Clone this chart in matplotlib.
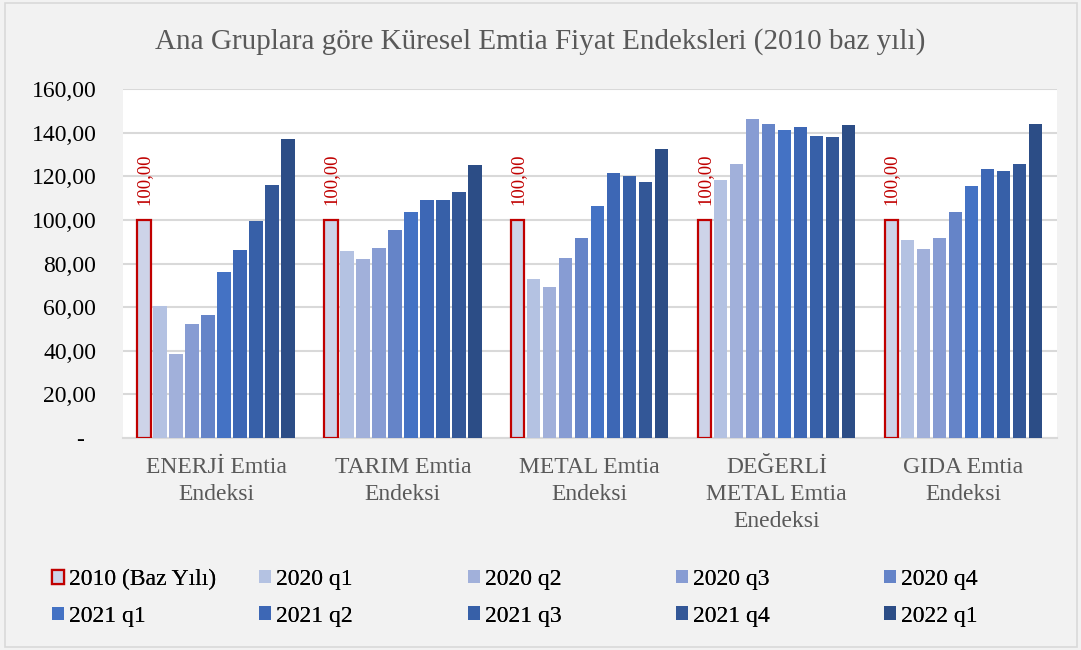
import matplotlib
matplotlib.use('Agg')
import matplotlib.pyplot as plt
import numpy as np
from matplotlib.patches import Rectangle

plt.rcParams['font.family'] = ['Liberation Serif', 'DejaVu Serif']

# kategoriler ve seriler
kategoriler = ['ENERJİ Emtia\nEndeksi', 'TARIM Emtia\nEndeksi', 'METAL Emtia\nEndeksi',
               'DEĞERLİ\nMETAL Emtia\nEnedeksi', 'GIDA Emtia\nEndeksi']
seriler = ['2010 (Baz Yılı)', '2020 q1', '2020 q2', '2020 q3', '2020 q4',
           '2021 q1', '2021 q2', '2021 q3', '2021 q4', '2022 q1']

baz_2010 = [100, 100, 100, 100, 100]
q1_2020 = [60.5, 85.8, 73.0, 118.4, 90.8]
q2_2020 = [38.7, 81.9, 69.1, 125.7, 86.5]
q3_2020 = [52.1, 87.1, 82.5, 146.4, 91.9]
q4_2020 = [56.4, 95.3, 91.9, 144.3, 103.5]
q1_2021 = [76.3, 103.8, 106.6, 141.3, 115.8]
q2_2021 = [86.1, 109.2, 121.7, 142.9, 123.6]
q3_2021 = [99.7, 109.2, 120.1, 138.6, 122.4]
q4_2021 = [116.2, 112.9, 117.5, 138.3, 125.7]
q1_2022 = [137.1, 125.1, 132.6, 143.6, 144.3]

degerler = [baz_2010, q1_2020, q2_2020, q3_2020, q4_2020,
            q1_2021, q2_2021, q3_2021, q4_2021, q1_2022]
renkler = ['#CDD3E8', '#B4C2E2', '#A1B0DA', '#879CD3', '#6584C8',
           '#4472C4', '#3D67B5', '#3760A8', '#335797', '#2C4D86']

y_ticks = [0, 20, 40, 60, 80, 100, 120, 140, 160]

fig = plt.figure(figsize=(10.81, 6.5), dpi=100, facecolor='#F2F2F2')
ax = fig.add_axes([0.1135, 0.3262, 0.864, 0.5364])
ax.set_facecolor('white')

x = np.arange(len(kategoriler))
adim = 0.0856
genislik = 0.072

for i, (ad, vals, renk) in enumerate(zip(seriler, degerler, renkler)):
    pos = x + (i - 4.5) * adim
    if i == 0:
        bars = ax.bar(pos, vals, genislik, color=renk, edgecolor='#C00000', linewidth=1.6, label=ad, zorder=3)
        for b, v in zip(bars, vals):
            ax.annotate(f'{v:.2f}'.replace('.', ','), (b.get_x() + b.get_width() / 2, v),
                        xytext=(0, 11), textcoords='offset points', rotation=90,
                        ha='center', va='bottom', color='#C00000', fontsize=13.5)
    else:
        ax.bar(pos, vals, genislik, color=renk, linewidth=0, label=ad, zorder=3)

ax.set_xlim(-0.5, len(kategoriler) - 0.5)
ax.set_ylim(0, 160)
ax.set_yticks(y_ticks)
ax.set_yticklabels(['-  ' if t == 0 else f'{t:.2f}'.replace('.', ',') for t in y_ticks], fontsize=17)
ax.set_xticks(x)
ax.set_xticklabels(kategoriler, fontsize=17, color='#595959', linespacing=1.37)
ax.tick_params(axis='both', length=0)
ax.tick_params(axis='y', pad=19)
ax.tick_params(axis='x', pad=14)
ax.grid(axis='y', color='#D9D9D9', linewidth=1.5, zorder=0)
for s in ['top', 'left', 'right']:
    ax.spines[s].set_visible(False)
ax.spines['bottom'].set_color('#D9D9D9')
ax.spines['bottom'].set_linewidth(1.5)

fig.text(0.5, 1 - 42 / 650, 'Ana Gruplara göre Küresel Emtia Fiyat Endeksleri (2010 baz yılı)',
         ha='center', va='center', fontsize=21, color='#595959')

# lejant: 5 sütun, her sütunda 2 kayıt
handles, labels = ax.get_legend_handles_labels()
sutun_x = [52, 259, 468, 676, 884]
for c in range(5):
    h = [handles[c], handles[c + 5]]
    l = [labels[c], labels[c + 5]]
    leg = fig.legend(h, l, loc='upper left', bbox_to_anchor=(sutun_x[c] / 1081, 1 - 569 / 650),
                     frameon=False, fontsize=17, handlelength=0.5, handleheight=0.5,
                     handletextpad=0.2, labelspacing=0.66, borderpad=0, borderaxespad=0)
    fig.add_artist(leg)

fig.patches.append(Rectangle((5 / 1081, 3 / 650), 1072 / 1081, 644 / 650, transform=fig.transFigure,
                             fill=False, edgecolor='#D9D9D9', linewidth=1.2))

fig.savefig('out.png', dpi=100, facecolor=fig.get_facecolor())
